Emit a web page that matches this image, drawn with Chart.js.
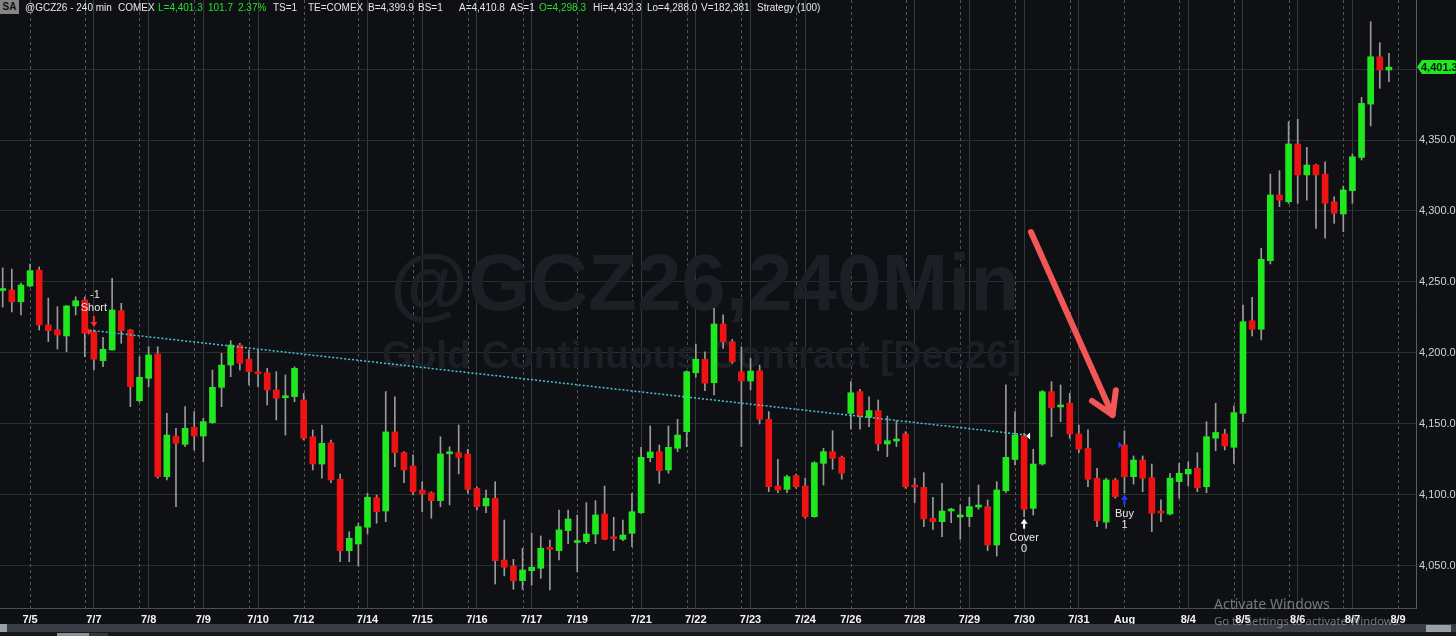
<!DOCTYPE html>
<html>
<head>
<meta charset="utf-8">
<script src="https://cdn.jsdelivr.net/npm/chart.js@4.4.1/dist/chart.umd.min.js"></script>
<style>
  html,body{margin:0;padding:0;background:#0e1014;overflow:hidden;}
  #wrap{position:relative;width:1456px;height:636px;}
  canvas{position:absolute;left:0;top:0;}
  .hd{position:absolute;top:1px;font-family:"Liberation Sans",Arial,sans-serif;font-size:10px;color:#e6e6e6;white-space:nowrap;line-height:13px;}
  .g{color:#27e027;}
  #sa{position:absolute;left:0;top:0;width:19px;height:14px;background:#858585;color:#111;font:bold 10px "Liberation Sans",Arial,sans-serif;line-height:14px;text-align:center;}
  .aw1{position:absolute;left:1214px;top:594px;font-family:"Noto Sans","Open Sans",sans-serif;font-size:14px;color:rgba(200,200,200,0.55);white-space:nowrap;}
  .aw2{position:absolute;left:1214px;top:613px;font-family:"Noto Sans","Open Sans",sans-serif;font-size:11.3px;color:rgba(200,200,200,0.55);white-space:nowrap;}
</style>
</head>
<body>
<div id="wrap">
<canvas id="c" width="1456" height="636"></canvas>
<div id="sa">SA</div>
<div class="hd" style="left:25px">@GCZ26 - 240 min</div>
<div class="hd" style="left:118px">COMEX</div>
<div class="hd g" style="left:158px">L=4,401.3</div>
<div class="hd g" style="left:208px">101.7</div>
<div class="hd g" style="left:238px">2.37%</div>
<div class="hd" style="left:273px">TS=1</div>
<div class="hd" style="left:308px">TE=COMEX</div>
<div class="hd" style="left:368px">B=4,399.9</div>
<div class="hd" style="left:418px">BS=1</div>
<div class="hd" style="left:459px">A=4,410.8</div>
<div class="hd" style="left:510px">AS=1</div>
<div class="hd g" style="left:539px">O=4,298.3</div>
<div class="hd" style="left:593px">Hi=4,432.3</div>
<div class="hd" style="left:647px">Lo=4,288.0</div>
<div class="hd" style="left:701px">V=182,381</div>
<div class="hd" style="left:757px">Strategy (100)</div>
<div class="aw1">Activate Windows</div>
<div class="aw2">Go to Settings to activate Windows.</div>
</div>
<script>
// ---- DATA (240-min bars, index 0..152) ----
const opens = [4244.0,4244.4,4236.1,4247.2,4258.4,4219.7,4216.2,4212.0,4233.1,4237.3,
4215.0,4194.6,4202.1,4229.8,4216.2,4166.4,4182.2,4199.3,4112.9,4141.5,
4135.7,4147.7,4141.5,4150.9,4175.8,4191.5,4205.6,4195.6,4186.8,4186.1,
4174.0,4168.5,4169.3,4166.9,4141.0,4121.8,4136.8,4111.1,4060.8,4065.5,
4077.3,4098.1,4088.7,4144.4,4129.8,4120.4,4103.5,4101.6,4096.0,4129.0,
4129.8,4128.9,4104.7,4092.3,4097.7,4054.2,4050.0,4039.6,4046.7,4048.4,
4062.2,4060.8,4074.9,4066.5,4067.1,4072.5,4086.6,4069.7,4068.8,4073.0,
4087.5,4126.3,4130.5,4117.6,4132.9,4144.6,4186.1,4195.6,4179.1,4220.4,
4207.9,4186.8,4180.3,4187.5,4153.3,4106.3,4104.0,4113.6,4106.3,4084.7,
4122.3,4130.5,4126.5,4157.5,4172.8,4154.7,4159.4,4135.9,4138.0,4143.0,
4106.0,4105.4,4083.6,4081.2,4088.7,4084.5,4084.7,4091.5,4091.8,4064.8,
4103.0,4125.0,4141.5,4090.6,4121.8,4172.8,4162.0,4164.6,4143.0,4132.9,
4111.8,4080.9,4110.6,4135.2,4112.9,4124.6,4112.2,4087.7,4086.6,4109.4,
4114.8,4118.8,4105.8,4140.0,4143.0,4133.6,4157.5,4222.7,4216.7,4265.0,
4311.3,4306.5,4347.2,4325.4,4332.4,4326.0,4306.5,4297.9,4314.3,4337.7,
4375.3,4408.6,4399.3];
const highs = [4259.9,4259.1,4249.3,4262.7,4260.6,4238.7,4232.6,4233.5,4239.6,4239.4,
4216.2,4211.0,4252.6,4235.0,4216.7,4197.4,4204.4,4204.4,4157.5,4147.0,
4162.2,4158.7,4154.0,4188.0,4199.8,4208.7,4206.8,4202.1,4202.1,4189.2,
4186.8,4184.5,4190.3,4171.6,4145.8,4149.3,4138.7,4114.8,4074.2,4080.1,
4101.2,4100.0,4172.8,4169.2,4130.5,4128.2,4109.4,4102.3,4141.0,4134.0,
4149.3,4132.2,4105.8,4103.5,4109.4,4082.4,4054.7,4062.5,4073.0,4071.1,
4068.3,4089.4,4089.4,4085.9,4094.6,4096.0,4106.3,4084.3,4082.4,4101.2,
4133.6,4148.6,4135.2,4148.6,4153.3,4187.5,4206.3,4200.9,4231.5,4226.8,
4209.6,4204.4,4196.2,4191.5,4158.7,4125.1,4114.1,4114.8,4111.8,4123.4,
4132.9,4145.3,4127.4,4179.8,4174.4,4169.2,4166.9,4155.6,4152.3,4144.6,
4111.8,4115.7,4098.4,4108.2,4090.6,4093.0,4098.4,4107.0,4096.5,4109.4,
4177.5,4158.7,4143.5,4132.2,4173.5,4179.8,4177.5,4171.6,4149.3,4145.8,
4118.8,4111.8,4111.8,4145.3,4127.5,4127.5,4121.8,4096.5,4115.3,4122.3,
4123.4,4129.8,4151.6,4164.6,4146.3,4162.7,4233.8,4239.2,4273.7,4326.0,
4328.4,4362.9,4364.6,4344.9,4333.0,4334.7,4310.0,4317.6,4340.1,4380.0,
4433.3,4418.5,4411.0];
const lows = [4232.4,4228.9,4226.8,4246.5,4216.2,4208.0,4202.8,4201.0,4226.8,4197.4,
4188.0,4190.3,4202.0,4206.8,4162.2,4165.5,4176.3,4111.8,4110.6,4091.8,
4134.0,4131.7,4123.4,4150.5,4162.2,4183.3,4188.0,4177.5,4176.3,4163.4,
4152.8,4142.2,4165.7,4138.7,4117.6,4111.8,4108.7,4053.0,4053.0,4050.0,
4072.5,4080.1,4081.2,4119.9,4108.7,4100.0,4088.2,4083.6,4091.8,4093.0,
4114.8,4101.2,4089.4,4087.5,4037.3,4043.0,4033.6,4033.6,4036.6,4041.3,
4033.1,4054.2,4065.7,4046.0,4065.7,4065.7,4068.5,4060.8,4067.8,4063.6,
4087.0,4123.4,4108.2,4115.3,4130.5,4134.0,4182.9,4173.5,4170.4,4203.3,
4192.7,4134.0,4174.0,4150.0,4102.3,4101.6,4101.6,4104.7,4083.6,4084.3,
4107.0,4118.1,4111.1,4146.3,4146.3,4148.1,4131.2,4127.0,4134.0,4104.7,
4094.6,4077.7,4075.8,4070.6,4080.5,4068.8,4077.7,4090.0,4060.8,4057.0,
4101.6,4121.1,4084.7,4085.9,4121.1,4141.0,4151.6,4139.9,4129.8,4105.8,
4077.7,4076.5,4097.7,4101.6,4107.7,4102.3,4074.2,4081.2,4085.9,4097.7,
4106.3,4102.3,4101.6,4131.2,4131.7,4122.3,4151.6,4212.0,4209.2,4262.7,
4303.0,4305.4,4305.4,4307.7,4287.8,4280.8,4291.3,4285.4,4305.4,4335.9,
4359.9,4386.4,4391.0];
const closes = [4245.0,4236.1,4247.9,4258.0,4219.7,4215.7,4212.7,4233.1,4236.8,4213.9,
4195.6,4202.6,4230.3,4215.7,4176.3,4182.9,4198.6,4112.9,4142.2,4136.4,
4147.0,4141.5,4151.6,4175.8,4191.5,4205.6,4192.7,4186.8,4185.4,4174.0,
4168.1,4169.5,4189.2,4139.9,4121.8,4136.4,4110.6,4060.8,4069.5,4077.7,
4098.4,4088.2,4144.4,4129.8,4117.6,4102.3,4100.7,4096.0,4128.9,4129.5,
4126.5,4104.0,4091.8,4097.7,4053.7,4049.1,4039.6,4047.2,4049.1,4062.5,
4061.7,4075.4,4083.1,4067.0,4072.5,4085.9,4068.8,4069.2,4071.8,4088.2,
4126.5,4130.3,4117.1,4133.6,4142.2,4186.8,4195.6,4178.7,4220.4,4207.9,
4193.9,4180.3,4187.3,4153.3,4105.8,4103.5,4112.9,4105.8,4084.7,4122.7,
4130.5,4125.8,4115.3,4172.0,4155.6,4159.4,4135.9,4138.2,4138.4,4105.8,
4105.6,4083.1,4081.2,4088.7,4089.2,4085.2,4091.8,4092.0,4064.8,4103.5,
4126.5,4142.2,4089.9,4121.8,4172.8,4161.5,4162.5,4143.0,4132.2,4111.1,
4081.9,4110.6,4098.8,4112.9,4124.6,4111.8,4087.1,4087.3,4111.8,4115.3,
4118.1,4105.1,4141.0,4144.0,4134.5,4158.0,4222.0,4216.7,4266.0,4311.3,
4307.7,4347.2,4325.4,4332.4,4325.4,4305.4,4298.4,4314.8,4338.2,4375.8,
4408.6,4399.3,4401.3];

// x-axis date labels (bar index where each label sits)
const labelIdx  = [3,10,16,22,28,33,40,46,52,58,63,70,76,82,88,93,100,106,112,118,123,130,136,142,148,153];
const labelText = ['7/5','7/7','7/8','7/9','7/10','7/12','7/14','7/15','7/16','7/17','7/19','7/21','7/22','7/23','7/24','7/26','7/28','7/29','7/30','7/31','Aug','8/4','8/5','8/6','8/7','8/9'];
const weekStartIdx = [3,33,63,93,123,153];          // labels that sit on a session separator
const sessionIdx = [3,9,15,21,27,33,39,45,51,57,63,69,75,81,87,93,99,105,111,117,123,129,135,141,147,153];
const yTicks = [4050,4100,4150,4200,4250,4300,4350,4400];

// strategy trades
const tradeIdx   = [10,112,123];
const tradeName  = ['Short','Cover','Buy'];
const tradePos   = ['-1','0','1'];
const tradeColor = ['#ff2a2a','#ffffff','#1f3dff'];
// trade line (short entry -> cover)
const trendX = [9.55,112.3];
const trendY = [4216.0,4142.2];
// hand-drawn arrow annotation (bar index, price)
const annoFrom = [112.75,4285.2];
const annoTo   = [121.7,4156.3];

// ---- CHART ----
const idx = opens.map((_, i) => i);
const GREEN = '#1fe81f', RED = '#ee1212';
const labelMap = new Map(labelIdx.map((v, i) => [v, labelText[i]]));
const weekSet = new Set(weekStartIdx);

const bgPlugin = {
  id: 'bg',
  beforeDraw(chart) {
    const { ctx } = chart;
    ctx.save();
    ctx.fillStyle = '#0e1014';
    ctx.fillRect(0, 0, chart.width, chart.height);
    ctx.restore();
  },
  beforeDatasetsDraw(chart) {
    const { ctx, chartArea: a, scales: { x } } = chart;
    ctx.save();
    ctx.strokeStyle = '#54575e';
    ctx.lineWidth = 1;
    ctx.setLineDash([3, 3]);
    sessionIdx.forEach(i => {
      const px = Math.round(x.getPixelForValue(i)) + 0.5;
      ctx.beginPath(); ctx.moveTo(px, a.top); ctx.lineTo(px, a.bottom); ctx.stroke();
    });
    ctx.setLineDash([]);
    ctx.fillStyle = '#1c1f26';
    ctx.textBaseline = 'alphabetic';
    ctx.textAlign = 'left';
    ctx.font = 'bold 80px "Liberation Sans", Arial, sans-serif';
    ctx.fillText('@GCZ26,240Min', 390, 310);
    ctx.font = 'bold 39px "Liberation Sans", Arial, sans-serif';
    ctx.fillText('Gold Continuous Contract [Dec26]', 382, 368);
    ctx.restore();
  }
};

function arrow(ctx, px, yTop, yBot, dir, color) {
  ctx.fillStyle = color;
  const hw = 3.5, hl = 5;
  if (dir === 1) {
    ctx.fillRect(px - 1, yTop, 2, (yBot - yTop) - hl);
    ctx.beginPath(); ctx.moveTo(px - hw, yBot - hl); ctx.lineTo(px + hw, yBot - hl); ctx.lineTo(px, yBot); ctx.closePath(); ctx.fill();
  } else {
    ctx.fillRect(px - 1, yTop + hl, 2, (yBot - yTop) - hl);
    ctx.beginPath(); ctx.moveTo(px - hw, yTop + hl); ctx.lineTo(px + hw, yTop + hl); ctx.lineTo(px, yTop); ctx.closePath(); ctx.fill();
  }
}

const markPlugin = {
  id: 'marks',
  afterDatasetsDraw(chart) {
    const { ctx, scales: { x, y } } = chart;
    ctx.save();
    ctx.font = '11px "Liberation Sans", Arial, sans-serif';
    ctx.textAlign = 'center';
    ctx.textBaseline = 'middle';
    tradeIdx.forEach((bi, k) => {
      const px = x.getPixelForValue(bi);
      const pPrice = y.getPixelForValue(opens[bi]);
      ctx.fillStyle = tradeColor[k];
      ctx.beginPath();
      if (k === 1) { ctx.moveTo(px + 6, pPrice - 3.5); ctx.lineTo(px + 6, pPrice + 3.5); ctx.lineTo(px + 2, pPrice); }
      else { ctx.moveTo(px - 6, pPrice - 3.5); ctx.lineTo(px - 6, pPrice + 3.5); ctx.lineTo(px - 2, pPrice); }
      ctx.closePath(); ctx.fill();
      if (k === 0) {
        const ph = y.getPixelForValue(highs[bi]);
        arrow(ctx, px, ph - 14, ph - 3, 1, tradeColor[k]);
        ctx.fillStyle = '#e8e8e8';
        ctx.fillText(tradeName[k], px, ph - 22);
        ctx.fillText(tradePos[k], px + 1, ph - 35);
      } else {
        const pl = y.getPixelForValue(lows[bi]);
        arrow(ctx, px, pl + 2, pl + 12, -1, tradeColor[k]);
        ctx.fillStyle = '#e8e8e8';
        ctx.fillText(tradeName[k], px, pl + 21);
        ctx.fillText(tradePos[k], px, pl + 32);
      }
    });
    const x1 = x.getPixelForValue(annoFrom[0]), y1 = y.getPixelForValue(annoFrom[1]);
    const x2 = x.getPixelForValue(annoTo[0]), y2 = y.getPixelForValue(annoTo[1]);
    const ang = Math.atan2(y2 - y1, x2 - x1);
    ctx.strokeStyle = '#f25656';
    ctx.lineWidth = 6;
    ctx.lineCap = 'round';
    ctx.lineJoin = 'round';
    ctx.beginPath(); ctx.moveTo(x1, y1); ctx.lineTo(x2, y2); ctx.stroke();
    const L = 25, sp = 0.55;
    ctx.beginPath();
    ctx.moveTo(x2 - L * Math.cos(ang - sp), y2 - L * Math.sin(ang - sp));
    ctx.lineTo(x2, y2);
    ctx.lineTo(x2 - L * Math.cos(ang + sp), y2 - L * Math.sin(ang + sp));
    ctx.stroke();
    ctx.restore();
  },
  afterDraw(chart) {
    const { ctx, chartArea: a, scales: { y } } = chart;
    ctx.save();
    const last = closes[closes.length - 1];
    const py = Math.round(y.getPixelForValue(last));
    const l = a.right + 1, r = chart.width, h = 14;
    ctx.fillStyle = '#22e622';
    ctx.beginPath();
    ctx.moveTo(l, py);
    ctx.lineTo(l + 5, py - h / 2);
    ctx.lineTo(r - 2, py - h / 2);
    ctx.quadraticCurveTo(r, py - h / 2, r, py - h / 2 + 2);
    ctx.lineTo(r, py + h / 2 - 2);
    ctx.quadraticCurveTo(r, py + h / 2, r - 2, py + h / 2);
    ctx.lineTo(l + 5, py + h / 2);
    ctx.closePath();
    ctx.fill();
    ctx.fillStyle = '#0a1a0a';
    ctx.font = 'bold 11px "Liberation Sans", Arial, sans-serif';
    ctx.textAlign = 'left';
    ctx.textBaseline = 'middle';
    ctx.fillText(last.toLocaleString('en-US', { minimumFractionDigits: 1, maximumFractionDigits: 1 }), l + 4, py + 0.5);
    ctx.fillStyle = '#3a3d44';
    ctx.fillRect(0, 624, chart.width, 8);
    ctx.fillStyle = '#9aa0a8';
    ctx.fillRect(0, 624, 7, 8);
    ctx.fillRect(1426, 625, 25, 7);
    ctx.fillStyle = '#16181c';
    ctx.fillRect(0, 632, chart.width, 4);
    ctx.fillStyle = '#8d929a';
    ctx.fillRect(57, 633, 32, 3);
    ctx.fillStyle = '#34373d';
    ctx.fillRect(89, 633, 19, 3);
    ctx.restore();
  }
};

function zeroPad(s) { s.paddingTop = 0; s.paddingBottom = 0; s.paddingLeft = 0; s.paddingRight = 0; }

new Chart(document.getElementById('c'), {
  type: 'bar',
  data: {
    datasets: [
      {
        label: 'wick',
        data: idx.map(i => ({ x: i, y: [lows[i], highs[i]] })),
        backgroundColor: '#9a9a9a',
        barThickness: 1,
        grouped: false,
        order: 3
      },
      {
        label: 'body',
        data: idx.map(i => ({ x: i, y: [opens[i], closes[i]] })),
        backgroundColor: idx.map(i => closes[i] >= opens[i] ? GREEN : RED),
        barThickness: 6,
        minBarLength: 2,
        grouped: false,
        order: 2
      },
      {
        type: 'line',
        label: 'trade',
        data: trendX.map((v, i) => ({ x: v, y: trendY[i] })),
        borderColor: '#45c8d0',
        borderWidth: 1.5,
        borderDash: [2, 2],
        pointRadius: 0,
        order: 1
      }
    ]
  },
  options: {
    responsive: false,
    animation: false,
    devicePixelRatio: 1,
    layout: { padding: { left: 0, right: 0, top: 0, bottom: 12 } },
    plugins: { legend: { display: false }, tooltip: { enabled: false } },
    scales: {
      x: {
        type: 'linear',
        offset: false,
        min: -0.296,
        max: 154.97,
        afterBuildTicks(s) { s.ticks = labelIdx.map(v => ({ value: v })); },
        ticks: {
          autoSkip: false, maxRotation: 0, minRotation: 0,
          color: '#f4f4f4',
          font: { family: '"Liberation Sans", Arial, sans-serif', size: 11, weight: 'bold' },
          padding: 5,
          callback: v => labelMap.get(v) ?? ''
        },
        grid: {
          offset: false,
          color: c => (c.tick && weekSet.has(c.tick.value)) ? 'rgba(0,0,0,0)' : '#34373d',
          lineWidth: 1,
          drawTicks: false
        },
        border: { display: true, color: '#4b4e55' },
        afterFit(s) { s.height = 16; zeroPad(s); }
      },
      y: {
        type: 'linear',
        position: 'right',
        min: 4020.4,
        max: 4448.6,
        afterBuildTicks(s) { s.ticks = yTicks.map(v => ({ value: v })); },
        ticks: {
          color: '#cfd2d6',
          font: { family: '"Liberation Sans", Arial, sans-serif', size: 11 },
          padding: 3,
          callback: v => v === 4400 ? '' : v.toLocaleString('en-US', { minimumFractionDigits: 1, maximumFractionDigits: 1 })
        },
        grid: { color: '#2a2d33', drawTicks: false },
        border: { display: true, color: '#5a5d63' },
        afterFit(s) { s.width = 40; zeroPad(s); }
      }
    }
  },
  plugins: [bgPlugin, markPlugin]
});
</script>
</body>
</html>
